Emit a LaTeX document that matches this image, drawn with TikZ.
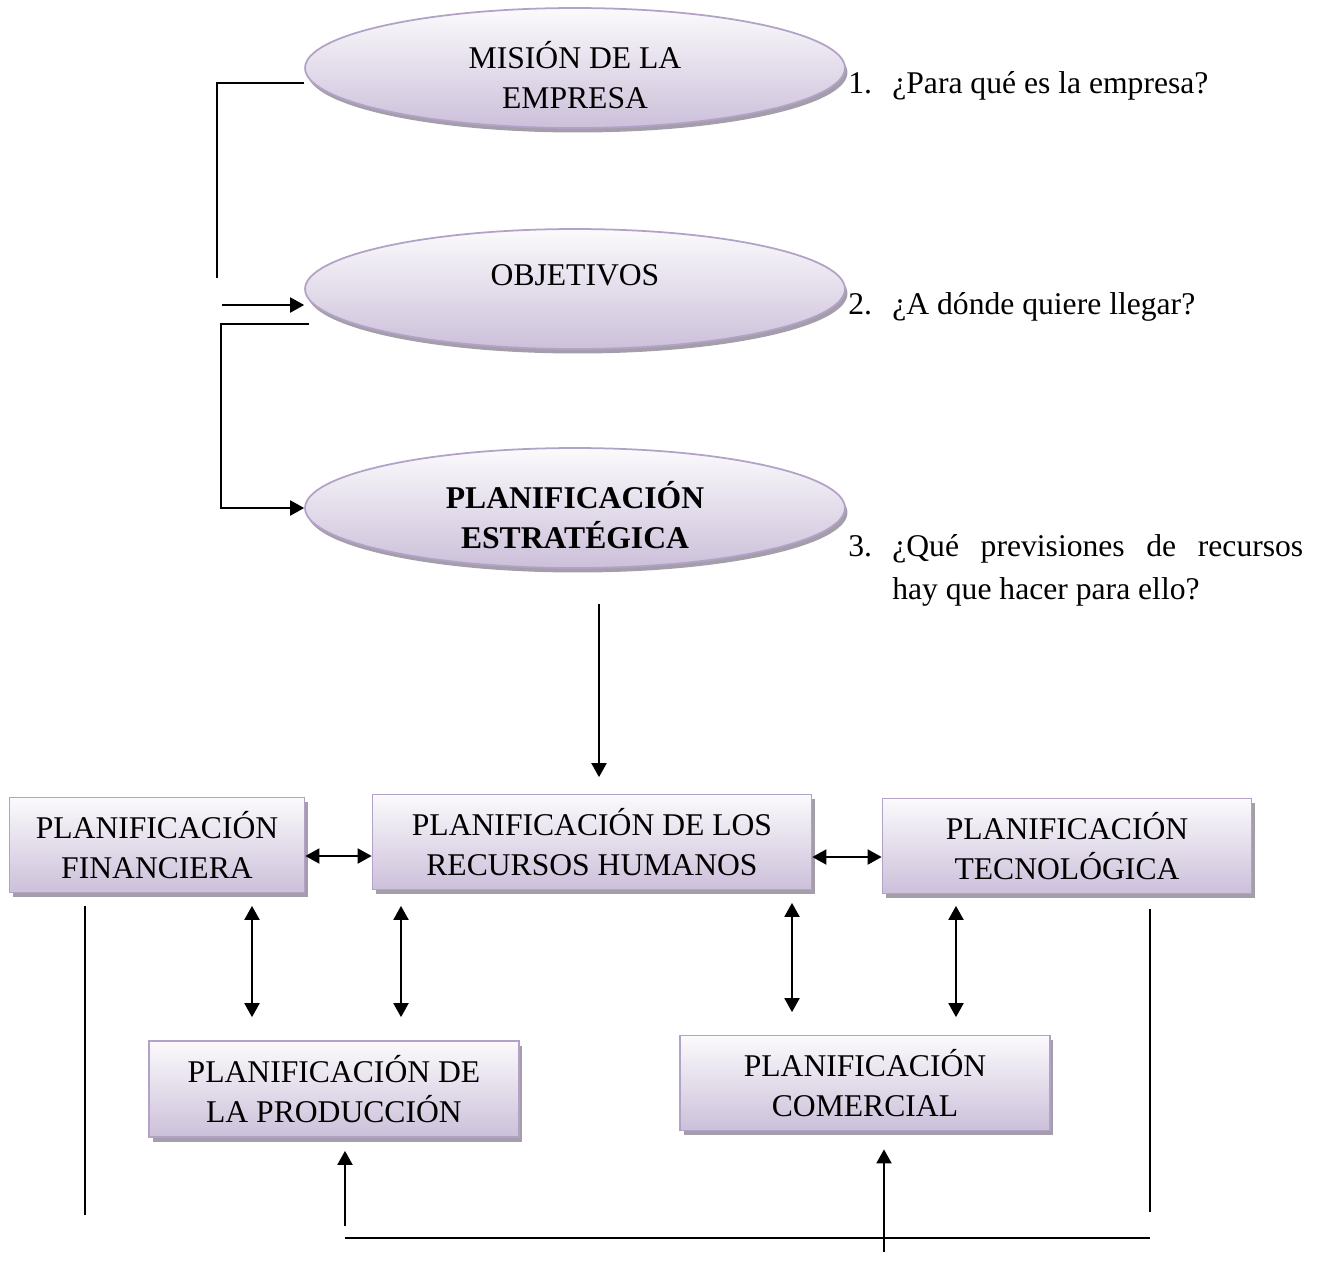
\documentclass[tikz,border=0pt]{standalone}
\usepackage{fontspec}
\setmainfont{Liberation Serif}
\usetikzlibrary{shapes.geometric,shadows,arrows.meta}
\definecolor{lavtop}{HTML}{FBFAFC}
\definecolor{lavbot}{HTML}{CCC0DA}
\definecolor{lavline}{HTML}{B3A2C7}
\definecolor{shadowc}{HTML}{A49EAA}
\begin{document}
\begin{tikzpicture}[x=0.02cm,y=-0.02cm,
  font=\fontsize{18}{23}\selectfont,
  oval/.style={ellipse, draw=lavline, line width=1pt, top color=lavtop, bottom color=lavbot,
    minimum width=10.8cm, minimum height=2.4cm, inner sep=0pt,
    drop shadow={shadow xshift=0.05cm, shadow yshift=-0.09cm, fill=shadowc, opacity=1}},
  card/.style={rectangle, draw=lavline, line width=1pt, top color=lavtop, bottom color=lavbot,
    align=center, inner sep=0pt, minimum height=1.9cm,
    drop shadow={shadow xshift=0.07cm, shadow yshift=-0.09cm, fill=shadowc, opacity=1}},
  lbl/.style={align=center, inner sep=0pt},
  ask/.style={anchor=base west, inner sep=0pt},
  link/.style={line width=1.1pt},
  arr/.style={link, -{Triangle[length=0.28cm,width=0.3cm]}},
  dbl/.style={link, {Triangle[length=0.28cm,width=0.3cm]}-{Triangle[length=0.28cm,width=0.3cm]}},
]
\useasboundingbox (0,0) rectangle (1319,1279);

% ---- the three stages ----
\node[oval] (mis) at (575,68) {};
\node[lbl] (misT) at (575,75) {MISIÓN DE LA\\EMPRESA};
\node[oval] (obj) at (575,289) {};
\node[lbl] (objT) at (575,275) {OBJETIVOS};
\node[oval] (est) at (575,508) {};
\node[lbl, font=\fontsize{18}{23}\selectfont\bfseries] (estT) at (575,515) {PLANIFICACIÓN\\ESTRATÉGICA};

% ---- guiding questions ----
\node[ask] (q1) at (848,93) {\makebox[0.88cm][l]{1.}¿Para qué es la empresa?};
\node[ask] (q2) at (848,314) {\makebox[0.88cm][l]{2.}¿A dónde quiere llegar?};
\node[ask] (q3) at (848,556) {\parbox[t]{9.1cm}{\fontsize{18}{25}\selectfont\hangindent=0.88cm\hangafter=1\noindent\makebox[0.88cm][l]{3.}¿Qué previsiones de recursos\linebreak hay que hacer para ello?}};

% ---- functional plans ----
\node[card, minimum width=5.9cm] (fin) at (157,845) {PLANIFICACIÓN\\FINANCIERA};
\node[card, minimum width=8.78cm] (hum) at (592,842) {PLANIFICACIÓN DE LOS\\RECURSOS HUMANOS};
\node[card, minimum width=7.38cm] (tec) at (1067,846) {PLANIFICACIÓN\\TECNOLÓGICA};
\node[card, minimum width=7.4cm, minimum height=1.92cm] (pro) at (334,1089) {PLANIFICACIÓN DE\\LA PRODUCCIÓN};
\node[card, minimum width=7.4cm] (com) at (865,1083) {PLANIFICACIÓN\\COMERCIAL};

% ---- feedback links on the left ----
\coordinate (k1) at (217,278);
\draw[link] (mis.west |- 0,83) -| (k1);
\coordinate (k2) at (222,305);
\draw[arr] (k2) -- (k2 -| obj.west);
\coordinate (k3) at (309,324);
\coordinate (k4) at (221,508);
\draw[arr] (k3) -| (k4) -- (est.west);

% ---- strategy feeds human resources ----
\draw[arr, shorten <=0.7cm, shorten >=0.33cm] (est.south -| 599,0) -- (hum.north -| 599,0);

% ---- links among the plans ----
\draw[dbl] (fin.east |- 0,856) -- (hum.west |- 0,856);
\draw[dbl] (hum.east |- 0,857) -- (tec.west |- 0,857);
\draw[dbl, shorten <=0.25cm, shorten >=0.46cm] (fin.south -| 252,0) -- (pro.north -| 252,0);
\draw[dbl, shorten <=0.31cm, shorten >=0.46cm] (hum.south -| 401,0) -- (pro.north -| 401,0);
\draw[dbl, shorten <=0.25cm, shorten >=0.45cm] (hum.south -| 792,0) -- (com.north -| 792,0);
\draw[dbl, shorten <=0.23cm, shorten >=0.35cm] (tec.south -| 956,0) -- (com.north -| 956,0);

% ---- bottom loop ----
\coordinate (b1) at (85,1215);
\draw[link, shorten <=0.25cm] (fin.south -| b1) -- (b1);
\coordinate (b2) at (1150,1212);
\draw[link, shorten <=0.3cm] (tec.south -| b2) -- (b2);
\coordinate (b3) at (345,1238);
\coordinate (b4) at (1150,1238);
\draw[link] (b3) -- (b4);
\coordinate (b5) at (345,1226);
\draw[arr, shorten >=0.26cm] (b5) -- (b5 |- pro.south);
\coordinate (b6) at (884,1252);
\draw[arr, shorten >=0.36cm] (b6) -- (b6 |- com.south);
\end{tikzpicture}
\end{document}
